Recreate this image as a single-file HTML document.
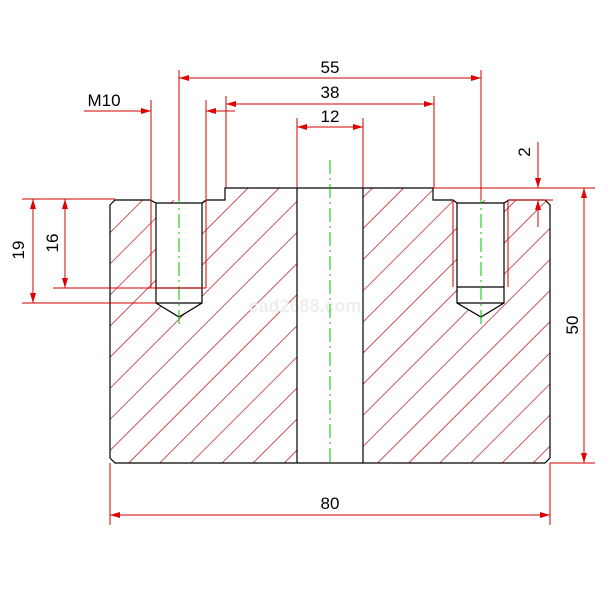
<!DOCTYPE html>
<html><head><meta charset="utf-8"><style>html,body{margin:0;padding:0;background:#fff}svg{display:block}</style></head>
<body>
<svg width="610" height="610" viewBox="0 0 610 610" xmlns="http://www.w3.org/2000/svg" font-family="Liberation Sans, sans-serif">
<defs>
<pattern id="h" patternUnits="userSpaceOnUse" width="22" height="22" patternTransform="rotate(45)">
<line x1="0" y1="0" x2="0" y2="22" stroke="#b00000" stroke-width="1.3"/>
</pattern>
<marker id="a" viewBox="0 0 10 6" refX="10" refY="3" markerWidth="10" markerHeight="6" orient="auto-start-reverse" markerUnits="userSpaceOnUse"><path d="M0,0 L10,3 L0,6 z" fill="#e00000"/></marker>
</defs>
<!-- hatch -->
<path fill="url(#h)" fill-rule="evenodd" d="M115,200 L225,200 L225,188 L297,188 L297,463 L115,463 L110,458 L110,205 Z M156,203 L202,203 L202,303 L179,317 L156,303 Z M363,188 L433,188 L433,200 L545,200 L550,205 L550,458 L545,463 L363,463 Z M457,203 L504,203 L504,303 L481,317 L457,303 Z"/>
<text x="305" y="312" font-size="18" font-weight="bold" fill="#eeeeee" text-anchor="middle">cad2688.com</text>
<g stroke="#000" stroke-width="1.2" fill="none">
<path d="M115,200 L150,200 L156,203 L202,203 L207,200 L225,200 L225,188 L433,188 L433,200 L453,200 L457,203 L504,203 L509,200 L545,200 L550,205 L550,458 L545,463 L115,463 L110,458 L110,205 Z"/>
<line x1="297" y1="188" x2="297" y2="463"/><line x1="363" y1="188" x2="363" y2="463"/>
<path d="M156,203 L156,303 L179,317 L202,303 L202,203 M156,288 L202,288 M156,303 L202,303"/>
<path d="M457,203 L457,303 L481,317 L504,303 L504,203 M457,287 L504,287 M457,303 L504,303"/>
</g>
<g stroke="#00c000" stroke-width="1" stroke-dasharray="14,4,2,4" fill="none">
<line x1="330" y1="160" x2="330" y2="463"/>
<line x1="179" y1="190" x2="179" y2="327"/>
<line x1="481" y1="190" x2="481" y2="327"/>
</g>
<g stroke="#d00000" stroke-width="1" fill="none">
<!-- extension lines -->
<line x1="179" y1="70" x2="179" y2="200"/><line x1="481" y1="70" x2="481" y2="200"/>
<line x1="226" y1="96" x2="226" y2="188"/><line x1="434" y1="96" x2="434" y2="188"/>
<line x1="297" y1="118" x2="297" y2="188"/><line x1="363" y1="118" x2="363" y2="188"/>
<line x1="151" y1="100" x2="151" y2="288"/><line x1="206" y1="100" x2="206" y2="288"/>
<line x1="453" y1="200" x2="453" y2="287"/><line x1="508" y1="200" x2="508" y2="287"/>
<line x1="22" y1="199" x2="115" y2="199"/><line x1="53" y1="288" x2="206" y2="288"/><line x1="22" y1="303" x2="156" y2="303"/>
<line x1="433" y1="188" x2="595" y2="188"/><line x1="508" y1="200" x2="553" y2="200"/>
<line x1="550" y1="463" x2="595" y2="463"/>
<line x1="110" y1="463" x2="110" y2="525"/><line x1="550" y1="463" x2="550" y2="525"/>
<!-- dims -->
<line x1="179" y1="78" x2="481" y2="78" marker-start="url(#a)" marker-end="url(#a)"/>
<line x1="226" y1="104" x2="434" y2="104" marker-start="url(#a)" marker-end="url(#a)"/>
<line x1="297" y1="127" x2="363" y2="127" marker-start="url(#a)" marker-end="url(#a)"/>
<line x1="84" y1="111" x2="151" y2="111" marker-end="url(#a)"/>
<line x1="235" y1="111" x2="206" y2="111" marker-end="url(#a)"/>
<line x1="538" y1="142" x2="538" y2="188" marker-end="url(#a)"/>
<line x1="538" y1="227" x2="538" y2="200" marker-end="url(#a)"/>
<line x1="584" y1="188" x2="584" y2="463" marker-start="url(#a)" marker-end="url(#a)"/>
<line x1="110" y1="515" x2="550" y2="515" marker-start="url(#a)" marker-end="url(#a)"/>
<line x1="33" y1="199" x2="33" y2="303" marker-start="url(#a)" marker-end="url(#a)"/>
<line x1="65" y1="199" x2="65" y2="288" marker-start="url(#a)" marker-end="url(#a)"/>
</g>
<g font-size="17" fill="#000" text-anchor="middle">
<text x="330" y="73">55</text>
<text x="330" y="98">38</text>
<text x="330" y="122">12</text>
<text x="104" y="106">M10</text>
<text x="330" y="509">80</text>
<text transform="translate(530,152) rotate(-90)">2</text>
<text transform="translate(578,325) rotate(-90)">50</text>
<text transform="translate(24,250) rotate(-90)">19</text>
<text transform="translate(58,243) rotate(-90)">16</text>
</g>
</svg>
</body></html>
